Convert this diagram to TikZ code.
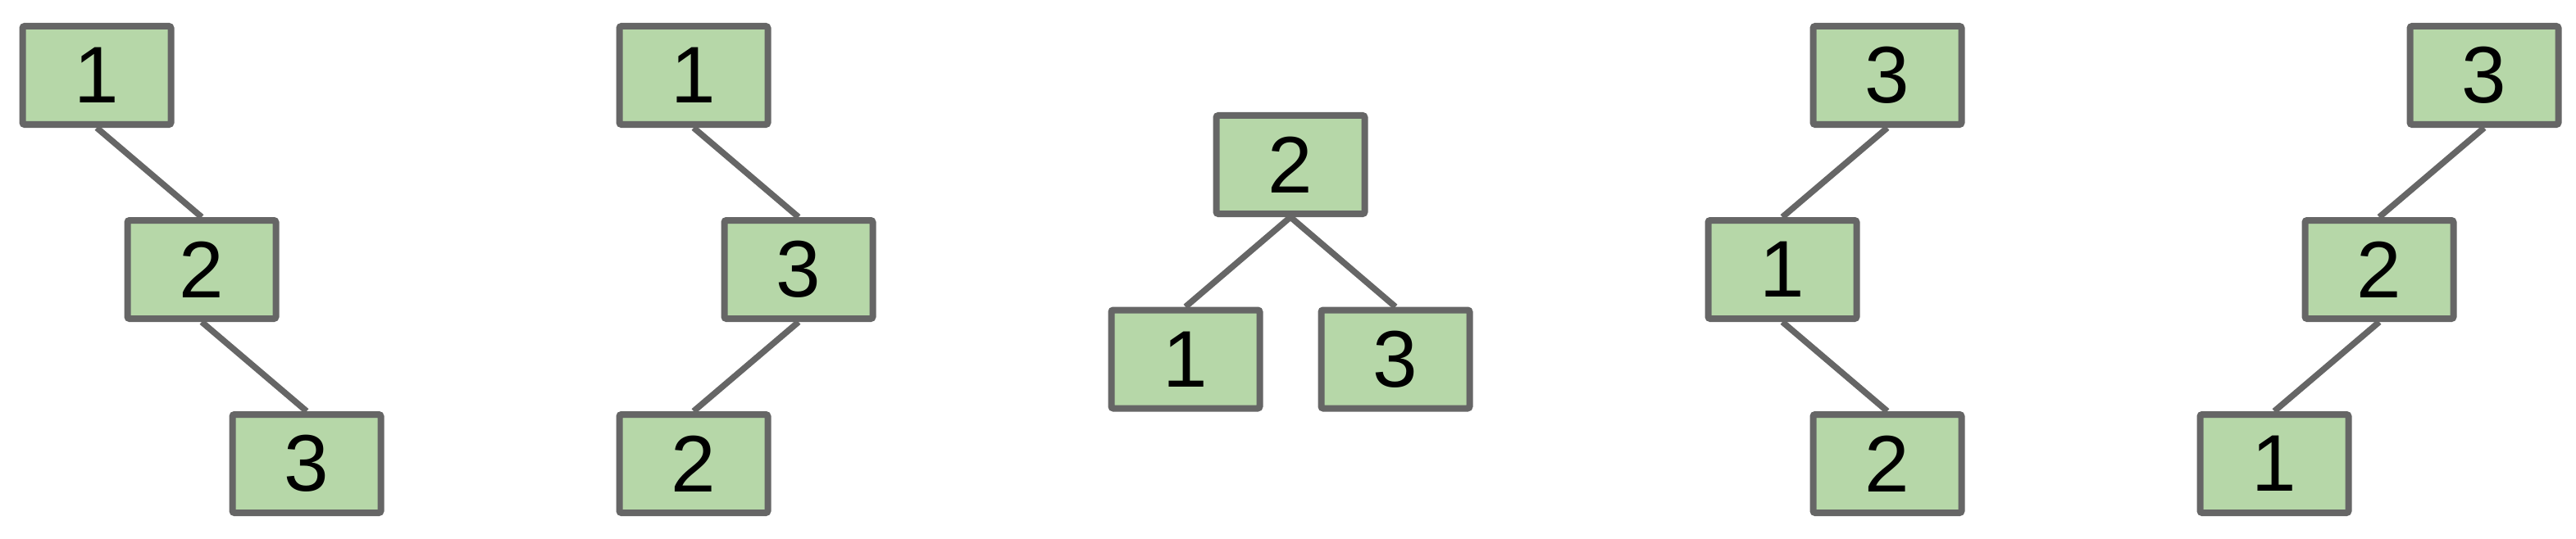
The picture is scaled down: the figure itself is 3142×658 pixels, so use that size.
\documentclass[tikz,border=0pt]{standalone}
\usepackage{fontspec}
\setmainfont{Liberation Sans}
\definecolor{boxfill}{HTML}{B6D7A8}
\definecolor{boxline}{HTML}{666666}
\tikzset{
  tnode/.style={draw=boxline, fill=boxfill, line width=8pt, rounded corners=2.5pt,
    minimum width=181pt, minimum height=120pt, inner sep=0pt,
    font=\fontsize{98}{100}\selectfont},
  tedge/.style={draw=boxline, line width=7.5pt}
}
\begin{document}
\begin{tikzpicture}[x=1pt,y=-1pt]
\useasboundingbox (0,0) rectangle (3142,658);
% tree 1
\node[tnode] (a1) at (118,92) {1};
\node[tnode] (a2) at (246,329) {2};
\node[tnode] (a3) at (374,566) {3};
\draw[tedge] (a1.south) -- (a2.north);
\draw[tedge] (a2.south) -- (a3.north);
% tree 2
\node[tnode] (b1) at (846,92) {1};
\node[tnode] (b3) at (974,329) {3};
\node[tnode] (b2) at (846,566) {2};
\draw[tedge] (b1.south) -- (b3.north);
\draw[tedge] (b3.south) -- (b2.north);
% tree 3
\node[tnode] (c2) at (1574,201) {2};
\node[tnode] (c1) at (1446,438.5) {1};
\node[tnode] (c3) at (1702,438.5) {3};
\draw[tedge] (c2.south) -- (c1.north);
\draw[tedge] (c2.south) -- (c3.north);
% tree 4
\node[tnode] (d3) at (2302,92) {3};
\node[tnode] (d1) at (2174,329) {1};
\node[tnode] (d2) at (2302,566) {2};
\draw[tedge] (d3.south) -- (d1.north);
\draw[tedge] (d1.south) -- (d2.north);
% tree 5
\node[tnode] (e3) at (3030,92) {3};
\node[tnode] (e2) at (2902,329) {2};
\node[tnode] (e1) at (2774,566) {1};
\draw[tedge] (e3.south) -- (e2.north);
\draw[tedge] (e2.south) -- (e1.north);
\end{tikzpicture}
\end{document}
